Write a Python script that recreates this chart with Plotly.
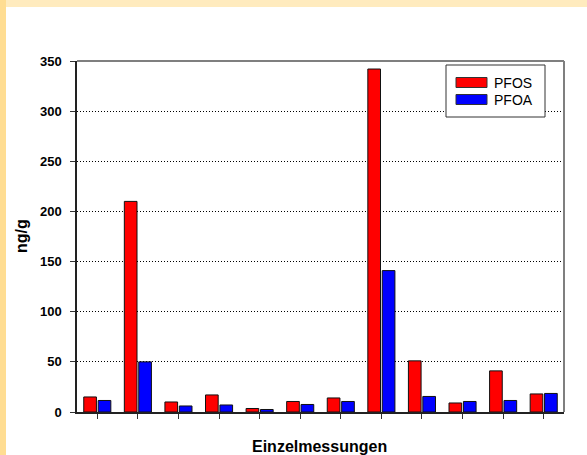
import plotly.graph_objects as go

categories = list(range(1, 13))
pfos = [15, 210, 10, 17, 3.5, 10.5, 14, 342, 51, 9, 41, 18]
pfoa = [11.5, 50, 6, 7, 2.5, 7.5, 10.5, 141, 15.5, 10.5, 11.5, 18.5]
y_ticks = [0, 50, 100, 150, 200, 250, 300, 350]
series_names = ["PFOS", "PFOA"]
series_colors = ["#FF0000", "#0000FF"]

W, H = 587, 455
L, R, T, B = 77, 23, 61, 43
pw, ph = W - L - R, H - T - B


def px(x):
    return (x - L) / pw


def py(y):
    return (H - B - y) / ph


FONT = "Arial, Liberation Sans, sans-serif"

fig = go.Figure()
for name, vals, col in zip(series_names, [pfos, pfoa], series_colors):
    fig.add_trace(go.Bar(
        x=categories, y=vals, name=name,
        marker=dict(color=col, line=dict(color="#111111", width=1)),
        showlegend=False,
    ))

shapes = [
    # yellow frame strips
    dict(type="rect", xref="paper", yref="paper", x0=px(0), x1=px(W), y0=py(0), y1=py(7),
         fillcolor="#FFEBBE", line=dict(width=0), layer="below"),
    dict(type="rect", xref="paper", yref="paper", x0=px(0), x1=px(6), y0=py(0), y1=py(H),
         fillcolor="#FFDD92", line=dict(width=0), layer="below"),
    # grey top and right frame
    dict(type="line", xref="paper", yref="paper", x0=0, x1=1, y0=1, y1=1,
         line=dict(color="#7F7F7F", width=2)),
    dict(type="line", xref="paper", yref="paper", x0=1, x1=1, y0=0, y1=1,
         line=dict(color="#7F7F7F", width=2)),
    # legend box
    dict(type="rect", xref="paper", yref="paper", x0=px(446), x1=px(545), y0=py(117), y1=py(65),
         fillcolor="#FFFFFF", line=dict(color="#333333", width=1)),
]
annotations = [
    dict(text="<b>ng/g</b>", xref="paper", yref="paper", x=px(21.5), y=0.5, textangle=-90,
         showarrow=False, font=dict(family=FONT, size=16, color="#000"), xanchor="center", yanchor="middle"),
    dict(text="<b>Einzelmessungen</b>", xref="paper", yref="paper", x=px(319), y=py(446),
         showarrow=False, font=dict(family=FONT, size=16, color="#000"), xanchor="center", yanchor="middle"),
]
sw_y = [(77.5, 87.5), (94.5, 104.5)]
for (y0, y1), name, col in zip(sw_y, series_names, series_colors):
    shapes.append(dict(type="rect", xref="paper", yref="paper", x0=px(456), x1=px(487),
                       y0=py(y1), y1=py(y0), fillcolor=col, line=dict(color="#333333", width=1)))
    annotations.append(dict(text=name, xref="paper", yref="paper", x=px(492), y=py((y0 + y1) / 2),
                            xanchor="left", yanchor="middle", showarrow=False,
                            font=dict(family=FONT, size=14, color="#000")))

fig.update_layout(
    width=W, height=H,
    margin=dict(l=L, r=R, t=T, b=B),
    paper_bgcolor="#FFFFFF", plot_bgcolor="#FFFFFF",
    barmode="group", bargap=0.29, bargroupgap=0.12,
    shapes=shapes, annotations=annotations,
    xaxis=dict(range=[0.5, 12.5], tickvals=categories, showticklabels=False,
               ticks="outside", ticklen=5, tickcolor="#333", showgrid=False,
               showline=True, linecolor="#222", linewidth=2, zeroline=False, fixedrange=True),
    yaxis=dict(range=[0, 350], tickvals=y_ticks, ticks="outside", ticklen=5, tickcolor="#333",
               ticklabelstandoff=6,
               tickfont=dict(family=FONT, size=13, color="#000", weight="bold"),
               showgrid=True, gridcolor="#000", griddash="1px,2px", gridwidth=1,
               showline=True, linecolor="#222", linewidth=1.5, zeroline=False, fixedrange=True),
)

fig.write_html("out.html")
